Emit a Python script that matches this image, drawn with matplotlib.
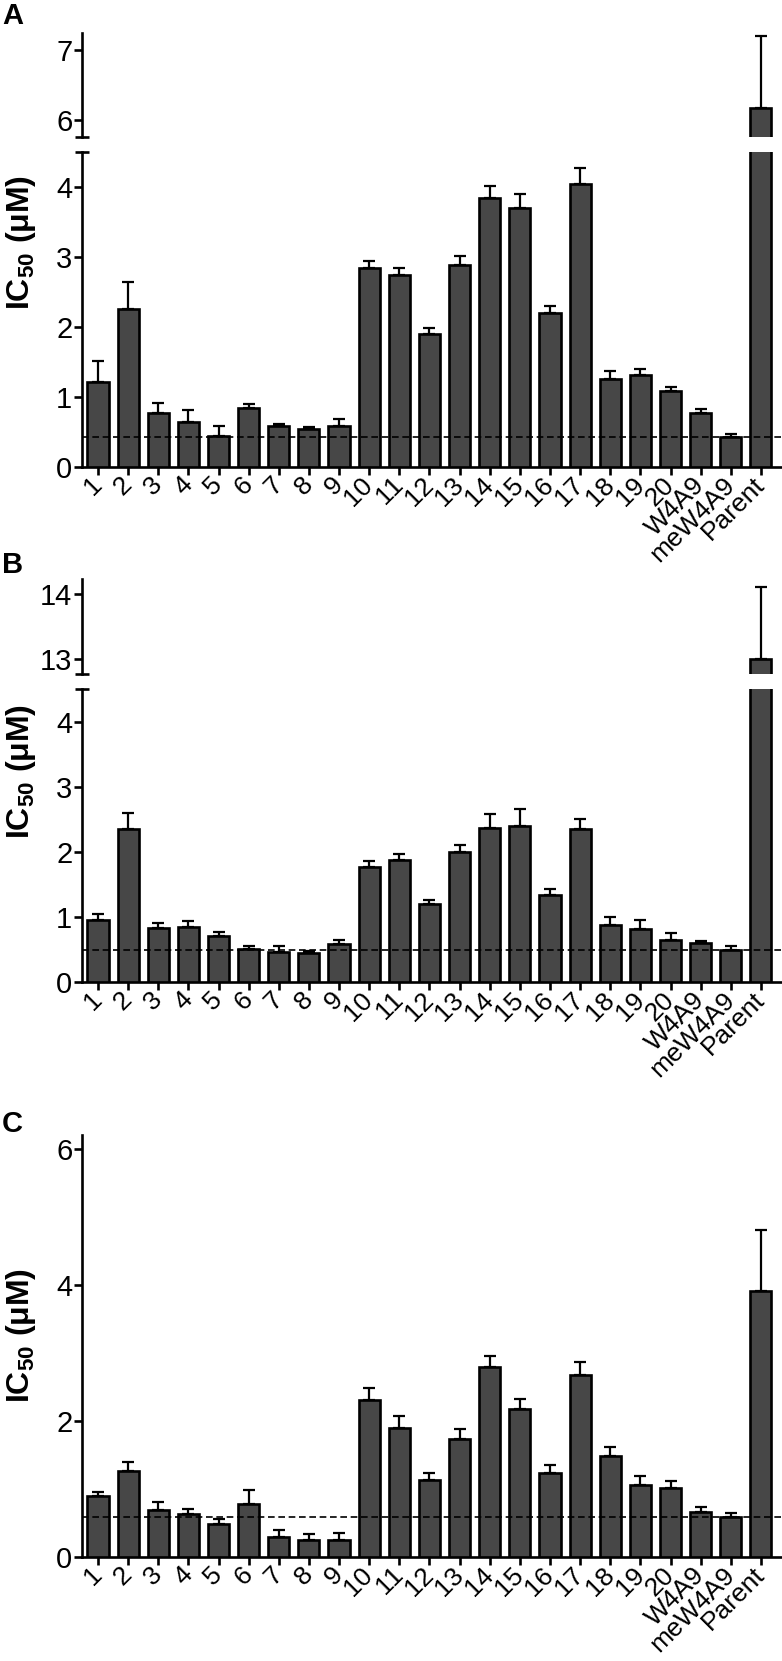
import matplotlib
matplotlib.use("Agg")
import matplotlib.pyplot as plt
import numpy as np

plt.rcParams['font.family'] = ['Liberation Sans', 'DejaVu Sans']
plt.rcParams['mathtext.fontset'] = 'custom'
plt.rcParams['mathtext.rm'] = 'Liberation Sans'
plt.rcParams['mathtext.bf'] = 'Liberation Sans:bold'

labels = ['1', '2', '3', '4', '5', '6', '7', '8', '9', '10', '11', '12', '13', '14',
          '15', '16', '17', '18', '19', '20', 'W4A9', 'meW4A9', 'Parent']

ic50_a = [1.21, 2.26, 0.77, 0.65, 0.45, 0.85, 0.58, 0.54, 0.58, 2.85, 2.75, 1.90,
          2.88, 3.84, 3.70, 2.20, 4.05, 1.26, 1.31, 1.08, 0.77, 0.43, 6.17]
err_a = [0.30, 0.39, 0.14, 0.17, 0.14, 0.05, 0.04, 0.03, 0.10, 0.10, 0.10, 0.09,
         0.14, 0.17, 0.20, 0.10, 0.22, 0.11, 0.09, 0.07, 0.06, 0.04, 1.03]
ref_a = 0.43

ic50_b = [0.95, 2.35, 0.83, 0.84, 0.71, 0.50, 0.46, 0.45, 0.59, 1.76, 1.88, 1.20,
          2.00, 2.37, 2.40, 1.34, 2.35, 0.88, 0.82, 0.65, 0.60, 0.49, 12.99]
err_b = [0.09, 0.24, 0.08, 0.09, 0.06, 0.06, 0.09, 0.02, 0.05, 0.10, 0.09, 0.06,
         0.10, 0.21, 0.25, 0.09, 0.15, 0.12, 0.13, 0.10, 0.03, 0.06, 1.13]
ref_b = 0.49

ic50_c = [0.90, 1.27, 0.69, 0.63, 0.48, 0.78, 0.30, 0.25, 0.25, 2.30, 1.90, 1.13,
          1.74, 2.79, 2.17, 1.24, 2.67, 1.49, 1.06, 1.01, 0.66, 0.59, 3.91]
err_c = [0.06, 0.13, 0.12, 0.08, 0.08, 0.21, 0.10, 0.09, 0.10, 0.19, 0.17, 0.10,
         0.14, 0.17, 0.15, 0.11, 0.19, 0.13, 0.13, 0.10, 0.07, 0.05, 0.90]
ref_c = 0.59

W, H = 782, 1661
BAR = '#474747'
LW = 1.9

fig = plt.figure(figsize=(W / 100, H / 100), dpi=100)


def px_axes(x0, y0, x1, y1):
    return fig.add_axes([x0 / W, 1 - y1 / H, (x1 - x0) / W, (y1 - y0) / H])


def draw_bars(ax, vals, errs, ref):
    x = np.arange(len(vals))
    ax.bar(x, vals, width=0.7, color=BAR, edgecolor='black', linewidth=LW, zorder=3)
    ax.errorbar(x, vals, yerr=[np.zeros(len(vals)), errs], fmt='none', ecolor='black',
                elinewidth=1.6, capsize=4.5, capthick=1.6, zorder=2)
    ax.axhline(ref, color='black', lw=1.2, ls=(0, (4, 2.2)), zorder=4)
    ax.set_xlim(-0.53, len(vals) - 0.3)
    for s in ['top', 'right']:
        ax.spines[s].set_visible(False)
    for s in ['left', 'bottom']:
        ax.spines[s].set_linewidth(LW)
    ax.tick_params(axis='y', labelsize=21, width=LW, length=6, pad=1)
    ax.tick_params(axis='x', labelsize=19, width=LW, length=6, pad=4)


def set_xlabels(ax):
    ax.set_xticks(np.arange(len(labels)))
    ax.set_xticklabels(labels, rotation=45, ha='right', va='center', rotation_mode='anchor')


def end_cap(ax, y):
    ax.plot([0], [y], marker='_', ms=10, mew=LW, color='black',
            transform=ax.transAxes, clip_on=False)


def broken_panel(vals, errs, ref, top, mid_top, mid_bot, bot, upper_lim, upper_ticks):
    ax_up = px_axes(82, top, 782, mid_top)
    ax_lo = px_axes(82, mid_bot, 782, bot)
    draw_bars(ax_up, vals, errs, ref)
    draw_bars(ax_lo, vals, errs, ref)
    ax_up.set_ylim(*upper_lim)
    ax_up.set_yticks(upper_ticks)
    ax_up.spines['bottom'].set_visible(False)
    ax_up.set_xticks([])
    end_cap(ax_up, 0)
    ax_lo.set_ylim(0, 4.5)
    ax_lo.set_yticks([0, 1, 2, 3, 4])
    end_cap(ax_lo, 1)
    set_xlabels(ax_lo)
    return ax_up, ax_lo


def ylabel(yc):
    fig.text(21 / W, 1 - yc / H, r'IC$_{\mathbf{50}}$ (μM)', rotation=90, fontsize=23,
             fontweight='bold', ha='center', va='center')


# panel A
broken_panel(ic50_a, err_a, ref_a, 33, 137, 152, 467, (5.76, 7.24), [6, 7])
ylabel(242)
fig.text(2 / W, 1 - 24 / H, 'A', fontsize=21, fontweight='bold', va='baseline')

# panel B
broken_panel(ic50_b, err_b, ref_b, 579, 674, 689, 982, (12.76, 14.24), [13, 14])
ylabel(771)
fig.text(2 / W, 1 - 573 / H, 'B', fontsize=21, fontweight='bold', va='baseline')

# panel C
ax_c = px_axes(82, 1135, 782, 1557)
draw_bars(ax_c, ic50_c, err_c, ref_c)
ax_c.set_ylim(0, 6.2)
ax_c.set_yticks([0, 2, 4, 6])
set_xlabels(ax_c)
ylabel(1335)
fig.text(2 / W, 1 - 1132 / H, 'C', fontsize=21, fontweight='bold', va='baseline')

fig.savefig('out.png', dpi=100)
